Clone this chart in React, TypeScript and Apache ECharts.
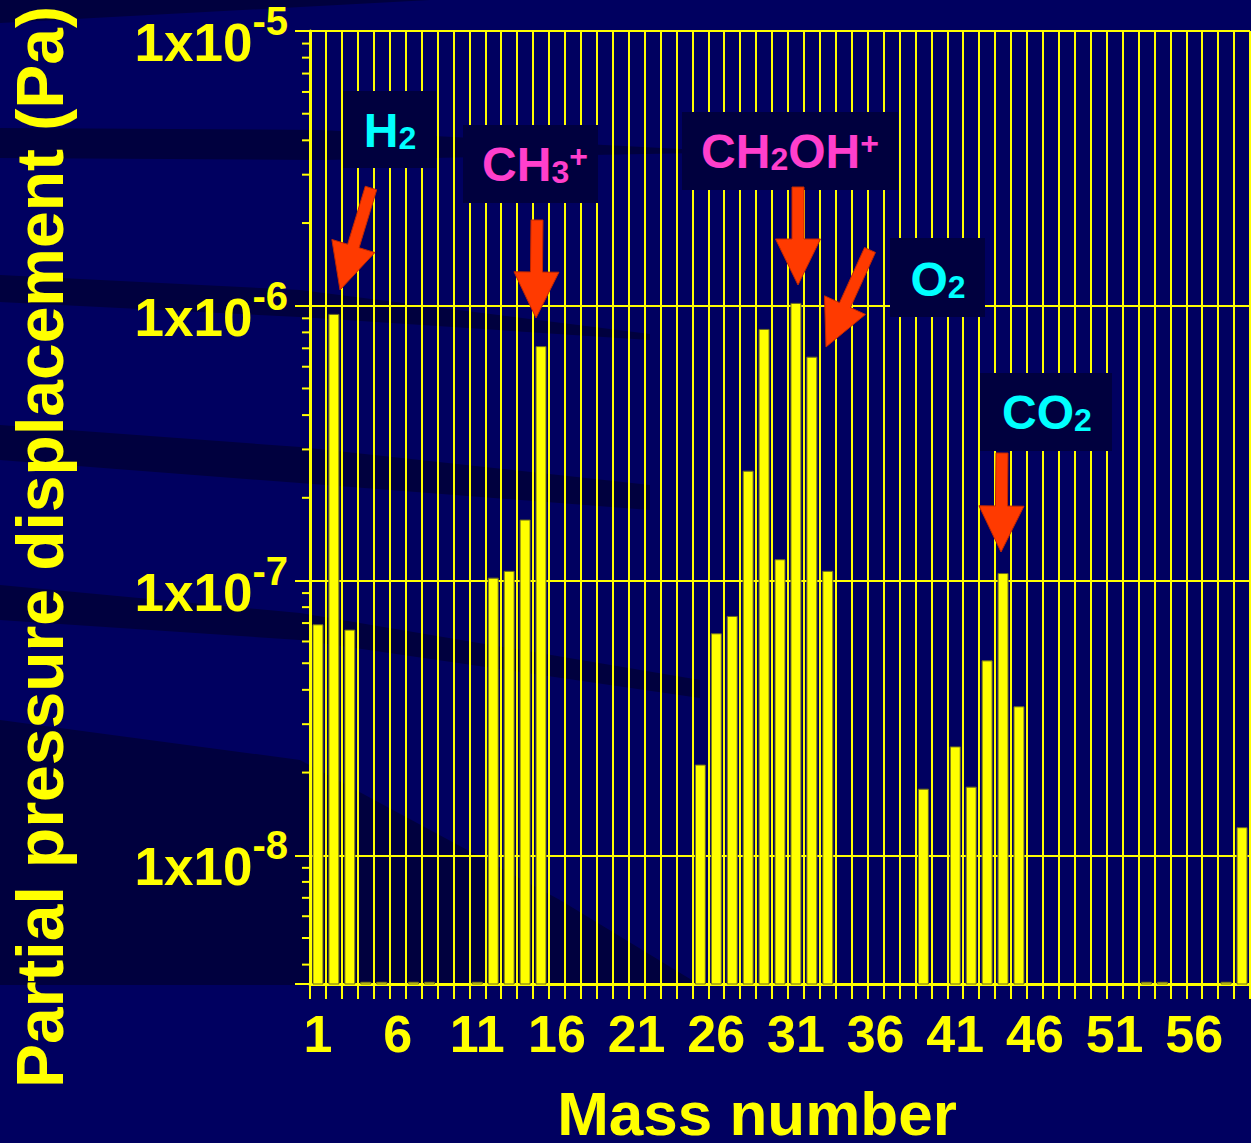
import React, { useEffect, useRef } from 'react';
import * as echarts from 'echarts';

// ---------------- data ----------------
const massNumbers: string[] = Array.from({ length: 59 }, (_, i) => String(i + 1));

const STUB = 3.45e-9; // tiny residual bars visible on the baseline
// partial pressure displacement (Pa) for mass numbers 1..59 (null = nothing drawn)
const pressures: (number | null)[] = [
  6.9e-8, 9.3e-7, 6.6e-8, STUB, STUB, null, STUB, STUB, null, null, // 1-10
  STUB, 1.02e-7, 1.08e-7, 1.66e-7, 7.1e-7, null, null, null, null, null, // 11-20
  null, null, null, null, 2.13e-8, 6.4e-8, 7.4e-8, 2.5e-7, 8.2e-7, 1.19e-7, // 21-30
  1.02e-6, 6.5e-7, 1.08e-7, null, null, null, null, null, 1.74e-8, null, // 31-40
  2.48e-8, 1.77e-8, 5.1e-8, 1.06e-7, 3.47e-8, null, null, null, null, null, // 41-50
  null, null, STUB, STUB, null, null, null, STUB, 1.26e-8, // 51-59
];

const Y_MIN = 3.4e-9;
const Y_MAX = 1e-5;
const minorDecades = [-9, -8, -7, -6];
const minorMultipliers = [2, 3, 4, 5, 6, 7, 8, 9];

// ---------------- styles ----------------
const FONT = '"Liberation Sans", Arial, Helvetica, sans-serif';
const YEL = '#ffff00';
const CYAN = '#00ffff';
const MAG = '#ff3fcc';
const ARROW = '#ff3a00';
const BOX = '#00003e';

function arrowPoints(x1: number, y1: number, x2: number, y2: number, sw: number, hw: number, hl: number) {
  const dx = x2 - x1, dy = y2 - y1;
  const len = Math.hypot(dx, dy);
  const ux = dx / len, uy = dy / len;
  const nx = -uy, ny = ux;
  const bx = x2 - ux * hl, by = y2 - uy * hl;
  return [
    [x1 + nx * sw / 2, y1 + ny * sw / 2],
    [bx + nx * sw / 2, by + ny * sw / 2],
    [bx + nx * hw / 2, by + ny * hw / 2],
    [x2, y2],
    [bx - nx * hw / 2, by - ny * hw / 2],
    [bx - nx * sw / 2, by - ny * sw / 2],
    [x1 - nx * sw / 2, y1 - ny * sw / 2],
  ];
}

function labelRich(color: string) {
  return {
    m: { fontSize: 48, fontWeight: 'bold', fontFamily: FONT, fill: color, lineHeight: 48, verticalAlign: 'bottom' },
    s: { fontSize: 32, fontWeight: 'bold', fontFamily: FONT, fill: color, lineHeight: 32, verticalAlign: 'bottom' },
    p: { fontSize: 32, fontWeight: 'bold', fontFamily: FONT, fill: color, lineHeight: 32, verticalAlign: 'top' },
  };
}

function labelBox(rect: [number, number, number, number], cx: number, cy: number, text: string, color: string) {
  return [
    {
      type: 'rect',
      z: 100,
      silent: true,
      shape: { x: rect[0], y: rect[1], width: rect[2], height: rect[3] },
      style: { fill: BOX },
    },
    {
      type: 'text',
      z: 101,
      silent: true,
      x: cx,
      y: cy,
      style: { text, rich: labelRich(color), fill: color, align: 'center', verticalAlign: 'middle' },
    },
  ];
}

function arrow(x1: number, y1: number, x2: number, y2: number) {
  return {
    type: 'polygon',
    z: 102,
    silent: true,
    shape: { points: arrowPoints(x1, y1, x2, y2, 12, 45, 46) },
    style: { fill: ARROW, stroke: '#c02800', lineWidth: 1 },
  };
}

const bandFill = 'rgba(0,0,28,0.5)';
const bands = [
  [[0, 0], [430, 0], [0, 23]],
  [[0, 128], [320, 130], [700, 150], [700, 153], [320, 160], [0, 158]],
  [[0, 275], [300, 290], [650, 334], [650, 340], [300, 317], [0, 302]],
  [[0, 425], [300, 447], [650, 485], [650, 510], [300, 483], [0, 460]],
  [[0, 585], [300, 613], [700, 680], [700, 698], [300, 640], [0, 620]],
  [[0, 720], [300, 760], [560, 900], [700, 985], [560, 985], [300, 985], [0, 985]],
];

export default function App() {
  const ref = useRef<HTMLDivElement>(null);

  useEffect(() => {
    document.body.style.margin = '0';
    if (!ref.current) return;
    const chart = echarts.init(ref.current, undefined, { renderer: 'svg' });

    const barData = pressures
      .map((v, i) => [i, v])
      .filter((d) => d[1] != null) as [number, number][];
    const minorData: [number, number][] = [];
    minorDecades.forEach((e) =>
      minorMultipliers.forEach((k) => {
        const v = k * Math.pow(10, e);
        if (v > Y_MIN && v < Y_MAX) minorData.push([0, v]);
      })
    );

    const option: any = {
      animation: false,
      backgroundColor: '#000060',
      grid: { left: 310, top: 31, width: 940, bottom: 159, containLabel: false },
      xAxis: {
        type: 'category',
        data: massNumbers,
        boundaryGap: true,
        axisLine: { show: true, lineStyle: { color: YEL, width: 3 } },
        axisTick: { show: true, interval: 0, length: 15, lineStyle: { color: YEL, width: 2 } },
        splitLine: { show: true, interval: 0, lineStyle: { color: YEL, width: 2 } },
        axisLabel: {
          interval: 4,
          color: YEL,
          fontSize: 52,
          fontWeight: 'bold',
          fontFamily: FONT,
          margin: 24,
        },
      },
      yAxis: {
        type: 'log',
        logBase: 10,
        min: Y_MIN,
        max: Y_MAX,
        axisLine: { show: true, lineStyle: { color: YEL, width: 3 } },
        axisTick: { show: true, length: 15, lineStyle: { color: YEL, width: 2 } },
        splitLine: { show: true, lineStyle: { color: YEL, width: 2 } },
        axisLabel: {
          margin: 22,
          padding: [8, 0, 0, 0],
          formatter: (v: number) => {
            const e = Math.log10(v);
            const r = Math.round(e);
            return Math.abs(e - r) < 1e-6 ? `{b|1x10}{s|${r}}` : '';
          },
          rich: {
            b: { fontSize: 53, fontWeight: 'bold', fontFamily: FONT, color: YEL, lineHeight: 50, verticalAlign: 'bottom' },
            s: {
              fontSize: 40,
              fontWeight: 'bold',
              fontFamily: FONT,
              color: YEL,
              lineHeight: 68,
              verticalAlign: 'top',
            },
          },
        },
      },
      series: [
        {
          type: 'custom',
          name: 'bars',
          silent: true,
          z: 2,
          data: barData,
          renderItem: (params: any, api: any) => {
            const i = api.value(0);
            const v = api.value(1);
            const top = api.coord([i, v]);
            const base = api.coord([i, Y_MIN]);
            const w = 10;
            return {
              type: 'rect',
              shape: { x: top[0] - w / 2, y: top[1], width: w, height: base[1] - top[1] },
              style: { fill: YEL, stroke: '#6b6b1f', lineWidth: 1 },
            };
          },
        },
        {
          type: 'custom',
          name: 'minorTicks',
          silent: true,
          z: 3,
          data: minorData,
          renderItem: (params: any, api: any) => {
            const p = api.coord([0, api.value(1)]);
            const bw = api.size([1, 0])[0];
            const x0 = p[0] - bw / 2;
            return {
              type: 'line',
              shape: { x1: x0 - 8, y1: p[1], x2: x0, y2: p[1] },
              style: { stroke: YEL, lineWidth: 2 },
            };
          },
        },
      ],
      graphic: [
        ...bands.map((pts) => ({
          type: 'polygon',
          z: -10,
          silent: true,
          shape: { points: pts },
          style: { fill: bandFill },
        })),
        ...labelBox([343, 91, 93, 77], 390, 130, '{m|H}{s|2}', CYAN),
        ...labelBox([463, 125, 135, 78], 535, 164, '{m|CH}{s|3}{p|+}', MAG),
        ...labelBox([682, 112, 216, 78], 790, 151, '{m|CH}{s|2}{m|OH}{p|+}', MAG),
        ...labelBox([890, 238, 95, 79], 938, 279, '{m|O}{s|2}', CYAN),
        ...labelBox([980, 373, 132, 78], 1047, 412, '{m|CO}{s|2}', CYAN),
        arrow(371, 188, 340, 290),
        arrow(537, 220, 536, 318),
        arrow(798, 187, 798, 285),
        arrow(870, 250, 826, 347),
        arrow(1002, 453, 1001, 552),
        {
          type: 'text',
          z: 50,
          silent: true,
          x: 40,
          y: 547,
          rotation: Math.PI / 2,
          style: {
            text: 'Partial pressure displacement (Pa)',
            fill: YEL,
            fontSize: 66,
            fontWeight: 'bold',
            fontFamily: FONT,
            align: 'center',
            verticalAlign: 'middle',
          },
        },
        {
          type: 'text',
          z: 50,
          silent: true,
          x: 757,
          y: 1113,
          style: {
            text: 'Mass number',
            fill: YEL,
            fontSize: 62,
            fontWeight: 'bold',
            fontFamily: FONT,
            align: 'center',
            verticalAlign: 'middle',
          },
        },
      ],
    };

    chart.setOption(option);
    return () => chart.dispose();
  }, []);

  return <div ref={ref} style={{ width: 1251, height: 1143 }} />;
}
